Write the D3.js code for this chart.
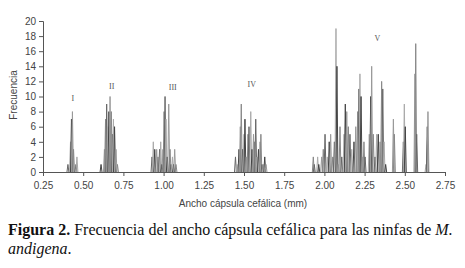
<!DOCTYPE html>
<html>
<head>
<meta charset="utf-8">
<script src="https://cdn.jsdelivr.net/npm/d3@7"></script>
<style>
    body { margin: 0; background: #fff; }
    svg { display: block; }
</style>
</head>
<body>
<div id="chart"></div>
<script>
// Ancho de capsula cefalica (mm) y frecuencia de cada medida
let anchos = [
    0.405, 0.421, 0.427, 0.433, 0.440, 0.455, 0.461,
    0.611, 0.632, 0.639, 0.646, 0.654, 0.660, 0.667, 0.675, 0.682, 0.688, 0.695, 0.704, 0.713,
    0.928, 0.936, 0.945, 0.957, 0.965, 0.975, 0.982, 0.990, 0.996, 1.003, 1.009, 1.015, 1.023,
    1.032, 1.040, 1.046, 1.055, 1.062, 1.069, 1.077,
    1.447, 1.457, 1.469, 1.477, 1.483, 1.491, 1.500, 1.506, 1.514, 1.525, 1.531, 1.542, 1.550,
    1.559, 1.565, 1.573, 1.581, 1.590, 1.600, 1.605, 1.612, 1.621, 1.629, 1.637,
    1.931, 1.937, 1.958, 1.965, 1.983, 1.993, 2.004, 2.018, 2.030, 2.039, 2.052, 2.062, 2.072,
    2.078, 2.086, 2.097, 2.108, 2.122, 2.130, 2.139, 2.149, 2.159, 2.170, 2.184, 2.195, 2.207,
    2.215, 2.221, 2.228, 2.238, 2.246, 2.253, 2.279, 2.288, 2.294, 2.304, 2.315, 2.325, 2.335,
    2.346, 2.356, 2.363, 2.371, 2.381, 2.429, 2.435, 2.491, 2.497, 2.503, 2.563, 2.568, 2.574,
    2.632, 2.640, 2.644
];
let frecuencias = [
    1, 4, 7, 8, 3, 1, 2,
    1, 3, 7, 9, 6, 8, 10, 8, 5, 7, 6, 3, 1,
    2, 4, 3, 3, 2, 3, 4, 1, 3, 8, 10, 7, 2,
    9, 3, 1, 2, 1, 3, 1,
    2, 1, 3, 6, 9, 3, 5, 7, 2, 5, 6, 8, 3,
    5, 4, 7, 2, 3, 4, 5, 1, 1, 2, 1,
    2, 1, 2, 1, 2, 3, 5, 2, 4, 5, 2, 4, 19,
    14, 1, 6, 2, 5, 9, 8, 6, 5, 3, 4, 6, 8,
    11, 13, 10, 2, 4, 2, 5, 10, 14, 5, 2, 5, 5,
    4, 12, 11, 4, 1, 7, 5, 4, 9, 6, 13, 17, 5,
    1, 6, 8
];

// Estadios ninfales y donde se rotulan (mm, frecuencia)
let estadios = ['I', 'II', 'III', 'IV', 'V'];
let posEstadios = [[0.435, 9.7], [0.677, 11.2], [1.057, 11.1], [1.548, 11.5], [2.329, 17.6]];

let xTicks = [0.25, 0.5, 0.75, 1, 1.25, 1.5, 1.75, 2, 2.25, 2.5, 2.75];
let yTicks = [0, 2, 4, 6, 8, 10, 12, 14, 16, 18, 20];

let chart_width = 465;
let chart_height = 268;
let colores = ['#666', '#aaa', '#444', '#999', '#888'];

let svg = d3.select('#chart')
    .append('svg')
    .attr('width', chart_width)
    .attr('height', chart_height);

// Scales
let xScale = d3.scaleLinear()
    .domain([0.25, 2.75])
    .range([43, 445]);

let yScale = d3.scaleLinear()
    .domain([0, 20])
    .range([172, 21]);

// Axes
let xAxis = d3.axisBottom(xScale)
    .tickValues(xTicks)
    .tickSize(4)
    .tickFormat(function(d) {
        return d === 1 ? '1.00' : d3.format('.2f')(d);
    });

let yAxis = d3.axisLeft(yScale)
    .tickValues(yTicks)
    .tickSize(4);

let gx = svg.append('g')
    .attr('transform', 'translate(0,' + yScale(0) + ')')
    .call(xAxis);

let gy = svg.append('g')
    .attr('transform', 'translate(' + xScale(0.25) + ',0)')
    .call(yAxis);

[gx, gy].forEach(function(g) {
    g.select('.domain').attr('stroke', '#555');
    g.selectAll('.tick line').attr('stroke', '#555');
    g.selectAll('.tick text')
        .attr('fill', '#444')
        .style('font-family', 'Liberation Sans, Arial, sans-serif')
        .style('font-size', '10px');
});
gx.selectAll('.tick text').attr('dy', '0.95em');
gy.selectAll('.tick text').attr('x', -7);

// Spikes: each measure goes up from the baseline and back down
let half = 0.006;
let line = d3.line()
    .x(function(d) { return xScale(d[0]); })
    .y(function(d) { return yScale(d[1]); });

svg.append('g')
    .selectAll('path')
    .data(anchos.map(function(a, i) { return [a, frecuencias[i]]; }))
    .enter()
    .append('path')
    .attr('d', function(d) {
        return line([[d[0] - half, 0], [d[0], d[1]], [d[0] + half, 0]]);
    })
    .attr('fill', 'none')
    .attr('stroke', function(d, i) { return colores[i % colores.length]; })
    .attr('stroke-width', 1);

// Instar labels
svg.append('g')
    .selectAll('text')
    .data(estadios)
    .enter()
    .append('text')
    .text(function(d) { return d; })
    .attr('x', function(d, i) { return xScale(posEstadios[i][0]); })
    .attr('y', function(d, i) { return yScale(posEstadios[i][1]); })
    .attr('text-anchor', 'middle')
    .attr('dominant-baseline', 'middle')
    .attr('fill', '#555')
    .style('font-family', 'Liberation Serif, serif')
    .style('font-size', '8px');

// Axis titles
svg.append('text')
    .text('Ancho cápsula cefálica (mm)')
    .attr('x', 243)
    .attr('y', 207)
    .attr('text-anchor', 'middle')
    .attr('fill', '#444')
    .style('font-family', 'Liberation Sans, Arial, sans-serif')
    .style('font-size', '10px');

svg.append('text')
    .text('Frecuencia')
    .attr('transform', 'translate(17,95) rotate(-90)')
    .attr('text-anchor', 'middle')
    .attr('fill', '#444')
    .style('font-family', 'Liberation Sans, Arial, sans-serif')
    .style('font-size', '10px');

// Caption
let caption = svg.append('text')
    .attr('x', 8)
    .attr('y', 235)
    .attr('fill', '#111')
    .style('font-family', 'Liberation Serif, Times New Roman, serif')
    .style('font-size', '16px');
caption.append('tspan').attr('font-weight', 'bold').text('Figura 2.');
caption.append('tspan').text(' Frecuencia del ancho cápsula cefálica para las ninfas de ');
caption.append('tspan').attr('font-style', 'italic').text('M.');

svg.append('text')
    .attr('x', 8)
    .attr('y', 254)
    .attr('fill', '#111')
    .style('font-family', 'Liberation Serif, Times New Roman, serif')
    .style('font-size', '16px')
    .call(function(t) {
        t.append('tspan').attr('font-style', 'italic').text('andigena');
        t.append('tspan').text('.');
    });
</script>
</body>
</html>
